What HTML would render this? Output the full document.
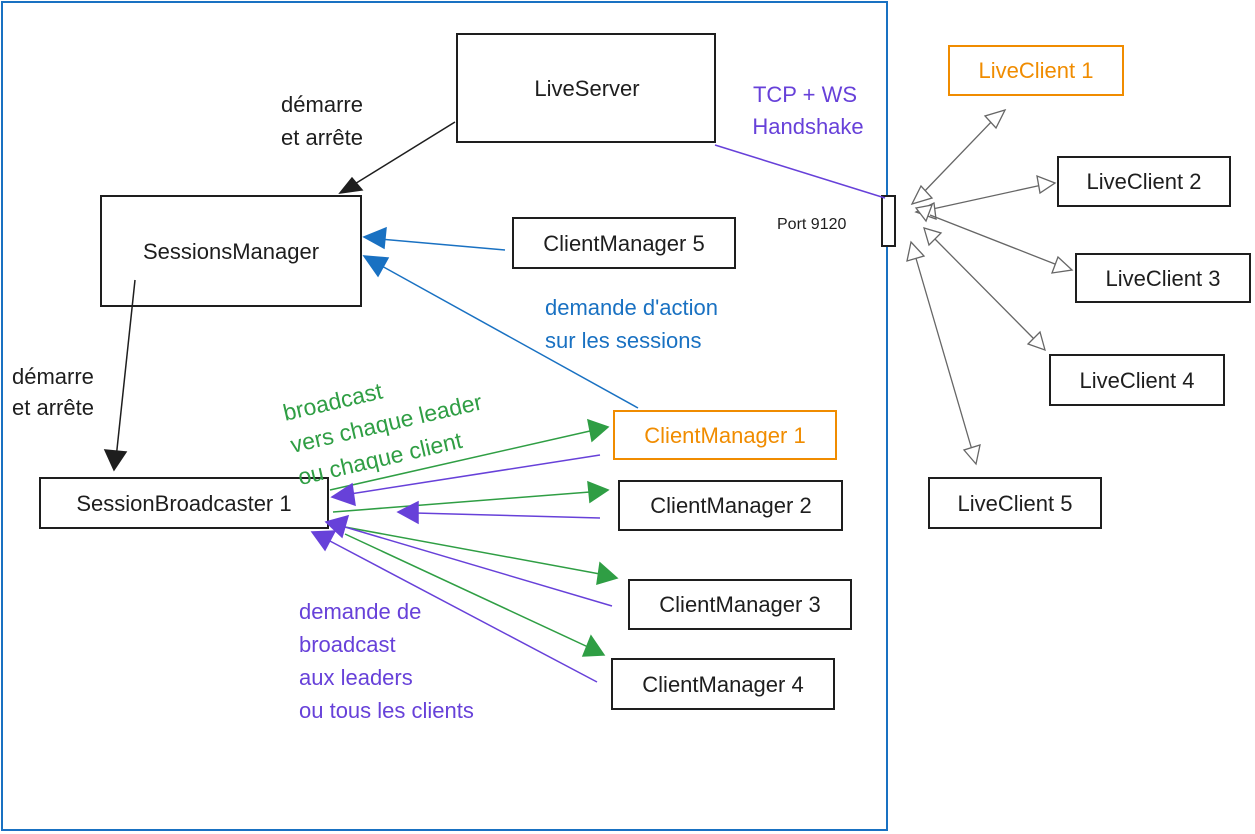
<!DOCTYPE html>
<html><head><meta charset="utf-8"><style>
html,body{margin:0;padding:0;background:#fff;}
svg{display:block;font-family:"Liberation Sans",sans-serif;}
</style></head><body>
<svg width="1255" height="834" viewBox="0 0 1255 834" xmlns="http://www.w3.org/2000/svg">
<rect x="2" y="2" width="885" height="828" fill="none" stroke="#1971c2" stroke-width="2"/>
<g fill="#fff" stroke="#1e1e1e" stroke-width="2">
<rect x="457" y="34" width="258" height="108"/>
<rect x="101" y="196" width="260" height="110"/>
<rect x="513" y="218" width="222" height="50"/>
<rect x="40" y="478" width="288" height="50"/>
<rect x="619" y="481" width="223" height="49"/>
<rect x="629" y="580" width="222" height="49"/>
<rect x="612" y="659" width="222" height="50"/>
<rect x="882" y="196" width="13" height="50"/>
<rect x="1058" y="157" width="172" height="49"/>
<rect x="1076" y="254" width="174" height="48"/>
<rect x="1050" y="355" width="174" height="50"/>
<rect x="929" y="478" width="172" height="50"/>
<rect x="614" y="411" width="222" height="48" stroke="#f08c00"/>
<rect x="949" y="46" width="174" height="49" stroke="#f08c00"/>
</g>
<g font-size="22" text-anchor="middle" fill="#1e1e1e">
<text x="587" y="96">LiveServer</text>
<text x="231" y="259">SessionsManager</text>
<text x="624" y="251">ClientManager 5</text>
<text x="184" y="511">SessionBroadcaster 1</text>
<text x="725" y="443" fill="#f08c00">ClientManager 1</text>
<text x="731" y="513">ClientManager 2</text>
<text x="740" y="612">ClientManager 3</text>
<text x="723" y="692">ClientManager 4</text>
<text x="1036" y="78" fill="#f08c00">LiveClient 1</text>
<text x="1144" y="189">LiveClient 2</text>
<text x="1163" y="286">LiveClient 3</text>
<text x="1137" y="388">LiveClient 4</text>
<text x="1015" y="511">LiveClient 5</text>
</g>
<text x="777" y="229" font-size="16" fill="#1e1e1e">Port 9120</text>
<g font-size="22" fill="#1e1e1e">
<text x="322" y="112" text-anchor="middle">démarre</text>
<text x="322" y="145" text-anchor="middle">et arrête</text>
<text x="12" y="384">démarre</text>
<text x="12" y="415">et arrête</text>
</g>
<g font-size="22" fill="#6741d9" text-anchor="middle">
<text x="805" y="102">TCP + WS</text>
<text x="808" y="134">Handshake</text>
</g>
<g font-size="22" fill="#1971c2">
<text x="545" y="315">demande d'action</text>
<text x="545" y="348">sur les sessions</text>
</g>
<g font-size="22" fill="#6741d9">
<text x="299" y="619">demande de</text>
<text x="299" y="652">broadcast</text>
<text x="299" y="685">aux leaders</text>
<text x="299" y="718">ou tous les clients</text>
</g>
<g font-size="23" fill="#2f9e44" transform="rotate(-13 400 420)">
<text x="288" y="395">broadcast</text>
<text x="288" y="428">vers chaque leader</text>
<text x="288" y="461">ou chaque client</text>
</g>
<g stroke-width="1.5" fill="none">
<line x1="455" y1="122" x2="345" y2="190" stroke="#1e1e1e"/>
<line x1="135" y1="280" x2="115" y2="468" stroke="#1e1e1e"/>
<line x1="715" y1="145" x2="885" y2="198" stroke="#6741d9"/>
</g>
<g stroke="#1e1e1e" stroke-width="1.5">
<polygon points="340,193 352,178 362,190" fill="#1e1e1e"/>
<polygon points="114,470 105,450 126,452" fill="#1e1e1e"/>
</g>
<g stroke="#1971c2" stroke-width="1.5" fill="#1971c2">
<line x1="505" y1="250" x2="380" y2="239"/>
<polygon points="364,237 386,228 384,248"/>
<line x1="638" y1="408" x2="380" y2="265"/>
<polygon points="364,256 388,258 378,276"/>
</g>
<g stroke="#2f9e44" stroke-width="1.5" fill="#2f9e44">
<line x1="330" y1="490" x2="590" y2="431"/>
<polygon points="608,427 588,420 592,441"/>
<line x1="333" y1="512" x2="590" y2="492"/>
<polygon points="608,490 588,482 590,502"/>
<line x1="345" y1="527" x2="600" y2="574"/>
<polygon points="617,578 600,563 597,584"/>
<line x1="345" y1="534" x2="588" y2="647"/>
<polygon points="604,655 591,636 583,656"/>
</g>
<g stroke="#6741d9" stroke-width="1.5" fill="#6741d9">
<line x1="600" y1="455" x2="350" y2="494"/>
<polygon points="332,497 352,484 355,505"/>
<line x1="600" y1="518" x2="415" y2="513"/>
<polygon points="398,512 418,502 418,523"/>
<line x1="612" y1="606" x2="345" y2="527"/>
<polygon points="326,522 348,516 342,537"/>
<line x1="597" y1="682" x2="328" y2="540"/>
<polygon points="312,532 335,531 325,550"/>
</g>
<g stroke="#666" stroke-width="1.3" fill="#fff">
<line x1="920" y1="196" x2="995" y2="118"/>
<polygon points="1005,110 985,116 996,128"/><polygon points="912,204 932,198 921,186"/>
<line x1="928" y1="210" x2="1042" y2="185"/>
<polygon points="1055,183 1037,176 1040,193"/><polygon points="916,212 934,203 936,219"/>
<line x1="930" y1="215" x2="1060" y2="266"/>
<polygon points="1072,270 1058,257 1052,273"/><polygon points="916,208 932,205 926,221"/>
<line x1="932" y1="236" x2="1035" y2="340"/>
<polygon points="1045,350 1040,332 1028,344"/><polygon points="924,228 929,245 941,233"/>
<line x1="915" y1="255" x2="972" y2="450"/>
<polygon points="976,464 980,445 964,450"/><polygon points="911,242 907,261 924,256"/>
</g>
</svg>
</body></html>
